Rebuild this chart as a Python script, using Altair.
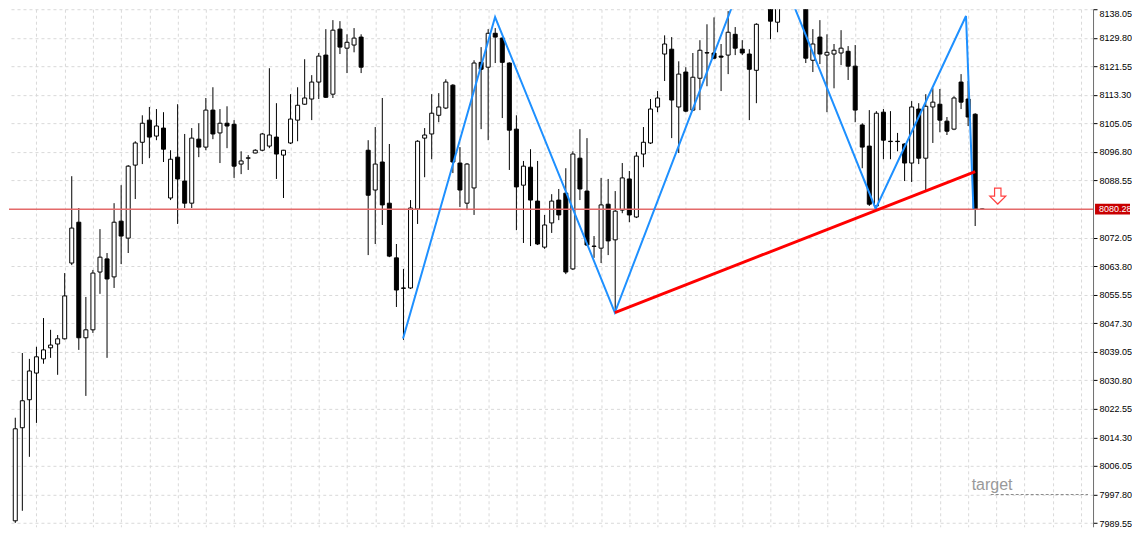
import altair as alt
import pandas as pd

# ---- candle data (index, open, high, low, close) ----
idx = list(range(138))
opens = [7990.2, 8017.1, 8025.2, 8032.9, 8037.0, 8040.2, 8041.3, 8042.8, 8064.7, 8076.5,
         8043.1, 8045.4, 8062.1, 8065.9, 8060.7, 8076.8, 8071.9, 8093.0, 8099.6, 8106.0,
         8101.4, 8103.7, 8083.5, 8095.3, 8088.4, 8082.0, 8100.5, 8098.2, 8108.9, 8102.3,
         8105.1, 8104.8, 8093.3, 8095.0, 8096.5, 8097.3, 8098.5, 8101.1, 8095.9, 8099.4,
         8106.0, 8110.6, 8112.1, 8117.0, 8124.8, 8113.5, 8132.3, 8126.8, 8127.7, 8130.0,
         8097.3, 8085.8, 8093.9, 8082.0, 8066.2, 8057.5, 8057.5, 8080.3, 8100.8, 8102.0,
         8107.4, 8109.5, 8116.1, 8093.6, 8082.0, 8086.4, 8122.7, 8121.3, 8131.1, 8129.7,
         8122.5, 8103.4, 8087.2, 8092.4, 8082.6, 8069.3, 8076.3, 8082.9, 8084.9, 8063.0,
         8095.0, 8085.5, 8069.6, 8069.0, 8081.7, 8071.4, 8080.0, 8089.0, 8078.0, 8096.2,
         8099.4, 8109.8, 8125.1, 8126.5, 8109.8, 8119.9, 8108.9, 8118.1, 8125.4, 8125.4,
         8124.5, 8124.8, 8130.8, 8126.5, 8125.1, 8120.4, 8141.0, 8155.0, 8134.3, 8150.0,
         8146.0, 8152.0, 8145.0, 8123.3, 8130.0, 8124.8, 8125.1, 8125.4, 8125.9, 8121.6,
         8104.6, 8098.5, 8081.2, 8108.3, 8099.9, 8099.9, 8099.1, 8093.6, 8109.2, 8095.0,
         8109.8, 8110.6, 8105.7, 8103.4, 8117.0, 8112.1, 8107.7, 8080.28]
highs = [8020.0, 8038.7, 8037.0, 8040.5, 8048.8, 8045.4, 8043.9, 8061.8, 8089.8, 8080.6,
         8054.9, 8062.7, 8074.5, 8067.6, 8082.0, 8087.2, 8093.0, 8099.9, 8107.4, 8109.8,
         8109.2, 8108.3, 8097.3, 8110.6, 8102.0, 8103.7, 8105.1, 8112.4, 8115.5, 8109.2,
         8110.0, 8106.0, 8097.0, 8095.9, 8097.6, 8102.3, 8121.0, 8110.9, 8097.4, 8113.5,
         8115.5, 8123.6, 8119.0, 8125.4, 8132.3, 8134.9, 8134.6, 8130.8, 8132.6, 8130.8,
         8100.2, 8104.0, 8112.4, 8099.1, 8070.2, 8063.0, 8082.9, 8100.2, 8103.7, 8113.5,
         8113.8, 8117.8, 8116.4, 8098.2, 8093.6, 8123.3, 8127.1, 8132.3, 8132.6, 8130.0,
         8122.7, 8107.4, 8094.2, 8097.6, 8094.2, 8078.6, 8084.6, 8086.1, 8092.1, 8097.0,
         8103.4, 8100.8, 8072.5, 8089.3, 8089.0, 8085.5, 8093.6, 8091.3, 8096.8, 8104.0,
         8112.1, 8114.4, 8130.5, 8130.0, 8123.0, 8121.3, 8125.4, 8129.1, 8133.7, 8135.7,
         8128.0, 8137.5, 8132.9, 8129.1, 8126.5, 8134.0, 8161.5, 8158.0, 8153.0, 8156.0,
         8155.0, 8154.0, 8147.0, 8132.3, 8134.9, 8130.8, 8128.0, 8132.0, 8127.4, 8127.7,
         8105.1, 8108.9, 8108.6, 8109.2, 8108.6, 8102.3, 8099.3, 8111.5, 8110.9, 8113.5,
         8115.2, 8115.0, 8106.9, 8112.9, 8119.3, 8117.3, 8108.0, 8080.4]
lows = [7989.6, 7993.1, 8008.7, 8018.5, 8035.6, 8037.3, 8032.4, 8042.6, 8064.1, 8039.6,
        8026.3, 8044.5, 8055.8, 8037.3, 8057.5, 8064.4, 8067.6, 8083.2, 8093.3, 8095.0,
        8100.2, 8093.9, 8082.9, 8076.0, 8080.6, 8080.6, 8095.3, 8097.3, 8100.5, 8093.6,
        8097.9, 8089.3, 8090.4, 8091.6, 8096.4, 8097.0, 8097.9, 8089.0, 8083.5, 8099.1,
        8099.9, 8110.4, 8106.0, 8112.1, 8112.4, 8112.4, 8125.1, 8119.6, 8125.6, 8119.6,
        8067.0, 8070.2, 8075.7, 8066.4, 8052.0, 8042.5, 8057.2, 8076.0, 8089.5, 8094.7,
        8105.4, 8109.2, 8090.7, 8080.9, 8080.0, 8078.6, 8103.4, 8100.2, 8122.5, 8106.6,
        8091.6, 8074.2, 8070.5, 8069.6, 8069.9, 8068.8, 8073.4, 8077.1, 8061.5, 8062.7,
        8082.9, 8069.6, 8066.2, 8064.7, 8067.0, 8050.3, 8079.1, 8076.5, 8077.7, 8092.4,
        8099.1, 8108.3, 8117.3, 8100.8, 8096.5, 8108.3, 8108.6, 8108.9, 8115.8, 8123.6,
        8114.4, 8119.3, 8124.8, 8124.8, 8106.0, 8110.9, 8140.6, 8129.4, 8131.4, 8141.0,
        8141.5, 8138.3, 8122.5, 8119.9, 8122.2, 8108.3, 8115.2, 8121.9, 8117.6, 8105.4,
        8092.1, 8081.2, 8080.3, 8094.7, 8094.7, 8097.0, 8088.4, 8088.1, 8093.3, 8085.5,
        8099.4, 8102.5, 8101.7, 8103.1, 8109.2, 8104.3, 8075.4, 8080.2]
closes = [8016.8, 8024.9, 8033.5, 8037.6, 8039.6, 8041.0, 8042.8, 8055.2, 8074.8, 8043.1,
          8045.4, 8061.8, 8066.4, 8060.1, 8076.5, 8072.5, 8092.7, 8099.4, 8105.1, 8101.1,
          8104.3, 8097.6, 8094.7, 8089.0, 8082.0, 8100.8, 8098.2, 8108.9, 8102.0, 8105.1,
          8104.3, 8092.7, 8094.2, 8095.1, 8097.3, 8102.0, 8101.7, 8096.2, 8097.3, 8106.3,
          8110.3, 8112.4, 8117.0, 8124.5, 8112.6, 8132.0, 8127.1, 8128.5, 8129.7, 8121.3,
          8084.3, 8093.3, 8081.5, 8066.7, 8056.9, 8057.4, 8080.6, 8099.9, 8101.7, 8108.0,
          8109.8, 8117.0, 8093.9, 8085.8, 8093.3, 8122.5, 8120.7, 8131.1, 8130.0, 8122.7,
          8103.1, 8086.7, 8092.7, 8082.9, 8070.2, 8075.7, 8082.6, 8078.6, 8062.1, 8096.2,
          8086.1, 8069.9, 8069.5, 8081.5, 8071.1, 8079.7, 8089.3, 8078.6, 8095.6, 8099.6,
          8109.2, 8112.4, 8128.0, 8111.8, 8119.3, 8108.6, 8118.4, 8126.2, 8125.5, 8123.9,
          8124.2, 8131.4, 8126.8, 8125.4, 8120.7, 8133.7, 8154.0, 8134.6, 8150.0, 8146.0,
          8152.0, 8145.0, 8123.9, 8128.0, 8125.1, 8125.6, 8126.2, 8126.8, 8121.6, 8108.9,
          8098.2, 8081.7, 8108.0, 8100.2, 8099.8, 8099.8, 8093.6, 8109.8, 8095.0, 8110.0,
          8111.2, 8106.0, 8102.8, 8112.4, 8111.2, 8106.9, 8080.28, 8080.28]

# ---- zigzag (blue) and trend line (red) ----
zz_idx = [54.94, 67.98, 84.95, 105.85, 121.9, 134.7, 135.75]
zz_price = [8042.9, 8135.8, 8050.4, 8161.7, 8080.4, 8136.1, 8080.4]
tr_idx = [84.95, 136.0]
tr_price = [8050.4, 8091.1]

# ---- levels / labels ----
last_price = 8080.28
target_price = 7997.80
target_line_idx = [138.2, 151.99]
target_text = "target"
target_text_pos = (135.5, 7999.0)
arrow_pos = (139.2, 8084.06)
x_grid = list(range(3, 152, 4))
y_ticks = [8138.05, 8129.80, 8121.55, 8113.30, 8105.05, 8096.80, 8088.55, 8072.05,
           8063.80, 8055.55, 8047.30, 8039.05, 8030.80, 8022.55, 8014.30, 8006.05,
           7997.80, 7989.55]

W, H = 1085, 518
XDOM = [-0.182, 151.99]
YDOM = [8138.05 - H * 0.28874, 8138.05]

df = pd.DataFrame({"i": idx, "open": opens, "high": highs, "low": lows, "close": closes})
zz = pd.DataFrame({"i": zz_idx, "p": zz_price})
tr = pd.DataFrame({"i": tr_idx, "p": tr_price})
lvl = pd.DataFrame({"p": [last_price], "t": [f"{last_price:.2f}"]})
tl = pd.DataFrame({"i": [target_line_idx[0]], "i2": [target_line_idx[1]], "p": [target_price]})
tt = pd.DataFrame({"i": [target_text_pos[0]], "p": [target_text_pos[1]], "t": [target_text]})
ar = pd.DataFrame({"i": [arrow_pos[0]], "p": [arrow_pos[1]]})

xs = alt.Scale(domain=XDOM, nice=False, zero=False)
ys = alt.Scale(domain=YDOM, nice=False, zero=False)
xax = alt.Axis(values=x_grid, grid=True, gridDash=[3, 3], gridColor="#d9d9d9",
               labels=False, ticks=False, domain=False, title=None)
yax = alt.Axis(orient="right", values=y_ticks, format=".2f", grid=True, gridDash=[3, 3],
               gridColor="#d9d9d9", tickSize=4, tickColor="#000000", domainColor="#6e6e6e",
               labelFont="Liberation Sans", labelFontSize=9, labelColor="#000000",
               labelPadding=2, labelFlush=True, title=None)


def X(f):
    return alt.X(f, type="quantitative", scale=xs, axis=xax)


def Y(f):
    return alt.Y(f, type="quantitative", scale=ys, axis=yax)


wicks = alt.Chart(df).mark_rule(color="black", strokeWidth=1, clip=True).encode(
    x=X("i"), y=Y("low"), y2="high")
bodies = alt.Chart(df).mark_bar(size=4, stroke="black", strokeWidth=1, clip=True).encode(
    x=X("i"), y=Y("open"), y2="close",
    fill=alt.condition("datum.close >= datum.open", alt.value("white"), alt.value("black")))
price_line = alt.Chart(lvl).mark_rule(color="#e46a6a", strokeWidth=1.5).encode(y=Y("p"))
zigzag = alt.Chart(zz).mark_line(color="#1e90ff", strokeWidth=2, clip=True).encode(
    x=X("i"), y=Y("p"))
trend = alt.Chart(tr).mark_line(color="#ff0000", strokeWidth=3, clip=True).encode(
    x=X("i"), y=Y("p"))
tline = alt.Chart(tl).mark_rule(color="#8c8c8c", strokeWidth=1, strokeDash=[3, 2]).encode(
    x=X("i"), x2="i2", y=Y("p"))
ttext = alt.Chart(tt).mark_text(align="left", baseline="alphabetic", fontSize=16,
                                font="Liberation Sans", color="#999999").encode(
    x=X("i"), y=Y("p"), text="t")
arrow = alt.Chart(ar).mark_point(
    shape="M-0.4,-1 L0.4,-1 L0.4,0 L1,0 L0,1 L-1,0 L-0.4,0 Z", size=256, filled=True,
    fill="white", stroke="#ff4040", strokeWidth=1.2, opacity=1).encode(x=X("i"), y=Y("p"))
lbl_box = alt.Chart(lvl).mark_point(
    shape="M-1,-0.31 L1,-0.31 L1,0.31 L-1,0.31 Z", size=1225, filled=True,
    fill="#c80000", strokeWidth=0, opacity=1).encode(x=alt.value(W + 19.5), y=Y("p"))
lbl_txt = alt.Chart(lvl).mark_text(align="left", baseline="middle", fontSize=9,
                                   font="Liberation Sans", color="white").encode(
    x=alt.value(W + 6), y=Y("p"), text="t")

chart = alt.layer(wicks, bodies, price_line, zigzag, trend, tline, ttext, arrow,
                  lbl_box, lbl_txt).properties(
    width=W, height=H, padding=0, background="white"
).configure_view(stroke=None)

chart.save("out.html", embed_options={"renderer": "svg", "actions": False})
